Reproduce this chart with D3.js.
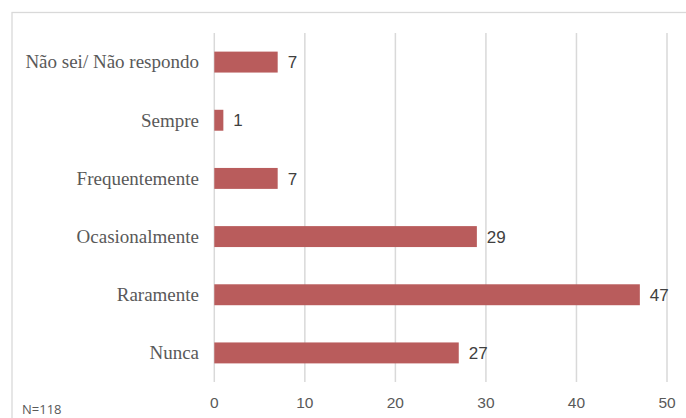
<!DOCTYPE html>
<html>
<head>
<meta charset="utf-8">
<script src="https://cdn.jsdelivr.net/npm/d3@7"></script>
<style>
  body { margin: 0; background: #fff; }
</style>
</head>
<body>
<div id="container"></div>
<script>
// data
var categories = ["Não sei/ Não respondo", "Sempre", "Frequentemente", "Ocasionalmente", "Raramente", "Nunca"];
var values = [7, 1, 7, 29, 47, 27];
var ticks = [0, 10, 20, 30, 40, 50];
var note = "N=118";

var W = 686, H = 418;

var svg = d3.select("#container")
  .append("svg")
  .attr("width", W)
  .attr("height", H);

// chart frame
svg.append("rect")
  .attr("x", 12)
  .attr("y", 12.5)
  .attr("width", W + 10)
  .attr("height", H + 10)
  .attr("fill", "none")
  .attr("stroke", "#d9d9d9")
  .attr("stroke-width", 1.3);

var x = d3.scaleLinear()
  .domain([0, 50])
  .range([214.3, 667]);

var y = d3.scaleBand()
  .domain(categories)
  .range([33, 382])
  .paddingInner(0.64)
  .paddingOuter(0.32);

// gridlines
svg.append("g")
  .selectAll("line")
  .data(ticks)
  .enter().append("line")
  .attr("x1", function(d) { return x(d); })
  .attr("x2", function(d) { return x(d); })
  .attr("y1", 33)
  .attr("y2", 382)
  .attr("stroke", "#d9d9d9")
  .attr("stroke-width", 1.5);

// bars
svg.append("g")
  .selectAll("rect")
  .data(values)
  .enter().append("rect")
  .attr("x", x(0))
  .attr("y", function(d, i) { return y(categories[i]); })
  .attr("width", function(d) { return x(d) - x(0); })
  .attr("height", y.bandwidth())
  .attr("fill", "#b95c5c");

// value labels
svg.append("g")
  .attr("font-family", "'Liberation Sans', Arial, sans-serif")
  .attr("font-size", 17)
  .attr("fill", "#404040")
  .selectAll("text")
  .data(values)
  .enter().append("text")
  .attr("x", function(d) { return x(d) + 10; })
  .attr("y", function(d, i) { return y(categories[i]) + y.bandwidth() / 2; })
  .attr("dy", "0.36em")
  .text(function(d) { return d; });

// category labels
svg.append("g")
  .attr("font-family", "'Liberation Serif', 'Times New Roman', serif")
  .attr("font-size", 19)
  .attr("fill", "#595959")
  .attr("text-anchor", "end")
  .selectAll("text")
  .data(categories)
  .enter().append("text")
  .attr("x", 199)
  .attr("y", function(d) { return y(d) + y.bandwidth() / 2; })
  .attr("dy", "0.33em")
  .text(function(d) { return d; });

// x axis tick labels
svg.append("g")
  .attr("font-family", "'Liberation Sans', Arial, sans-serif")
  .attr("font-size", 15.5)
  .attr("fill", "#595959")
  .attr("text-anchor", "middle")
  .selectAll("text")
  .data(ticks)
  .enter().append("text")
  .attr("x", function(d) { return x(d); })
  .attr("y", 402.5)
  .attr("dy", "0.36em")
  .text(function(d) { return d; });

svg.append("text")
  .attr("x", 22)
  .attr("y", 414)
  .attr("font-family", "'Open Sans', 'Liberation Sans', sans-serif")
  .attr("font-size", 13)
  .attr("fill", "#595959")
  .text(note);
</script>
</body>
</html>
